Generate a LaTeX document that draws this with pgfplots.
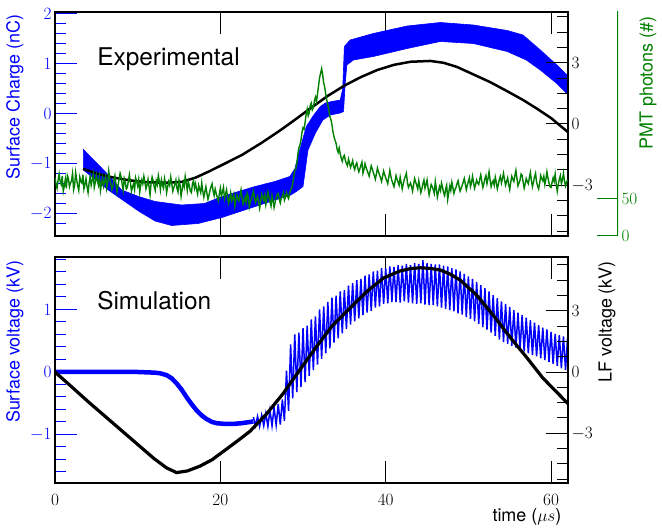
\documentclass[border=0pt]{standalone}
\usepackage[no-math]{fontspec}
\setmainfont{TeX Gyre Heros}
\usepackage{pgfplots}
\pgfplotsset{compat=1.18}
\definecolor{pmtgreen}{RGB}{0,128,0}
\begin{document}
\begin{tikzpicture}
\useasboundingbox (0,0) rectangle (662bp,529bp);
\pgfplotsset{
  panel/.style={scale only axis, width=513bp, xmin=0, xmax=62.05,
    tick align=inside, major tick length=22bp, minor tick length=11bp,
    tick style={line width=1bp, black},
    tick label style={font=\fontsize{18}{20}\selectfont},
    label style={font=\fontsize{18}{21}\selectfont},
    axis line style={line width=2.8bp}},
}
% ---------------- TOP PANEL ----------------
\begin{axis}[panel, at={(55bp,293bp)}, anchor=south west, height=224bp,
  ymin=-2.44, ymax=2.04,
  xtick={0,20,40,60}, xticklabels={}, xtick pos=both,
  ytick={-2,-1,0,1,2}, ytick pos=left,
  minor ytick={-2.2,-1.8,-1.6,-1.4,-1.2,-0.8,-0.6,-0.4,-0.2,0.2,0.4,0.6,0.8,1.2,1.4,1.6,1.8},
  y tick style={blue}, yticklabel style={blue},
  ylabel={Surface Charge (nC)},
  ylabel style={blue, at={(axis description cs:-0.078,0.62)}, anchor=center}]
\addplot[fill=blue, draw=blue, line width=0.6bp] coordinates {
(3.43,-0.71) (6.05,-1.15) (8.06,-1.52) (10.1,-1.65) (12.1,-1.75) (15.3,-1.82) (18.1,-1.79)
(20.2,-1.65) (24.2,-1.45) (26.6,-1.35) (28.4,-1.25) (29.0,-1.1) (29.6,-0.72) (30.4,-0.25)
(31.3,-0.02) (32.1,0.15) (32.7,0.22) (33.5,0.25) (34.5,0.28) (34.8,0.5) (35.0,1.35)
(35.7,1.48) (38.5,1.61) (42.6,1.76) (46.6,1.83) (50.6,1.78) (54.7,1.67) (56.6,1.58)
(58.7,1.28) (60.7,0.98) (62.1,0.75)
(62.1,0.38) (60.7,0.61) (58.7,0.88) (57.0,1.08) (54.7,1.25) (50.6,1.41) (46.6,1.45)
(42.6,1.31) (38.5,1.15) (36.1,1.08) (35.3,0.98) (35.1,0.6) (34.9,0.05) (34.5,0.02)
(33.3,-0.02) (32.4,-0.12) (31.5,-0.38) (30.6,-0.72) (30.0,-1.45) (29.2,-1.55) (28.4,-1.63)
(26.6,-1.72) (24.2,-1.85) (20.2,-2.07) (17.3,-2.19) (14.1,-2.23) (12.1,-2.14) (10.1,-1.94)
(6.45,-1.52) (3.43,-1.12)
} -- cycle;
\node[anchor=base west, inner sep=0pt, font=\fontsize{24.5}{28}\selectfont]
  at (axis description cs:0.082,0.763) {Experimental};
\end{axis}
\begin{axis}[panel, at={(55bp,293bp)}, anchor=south west, height=224bp,
  ymin=-5.49, ymax=5.49,
  xtick=\empty, ytick={-3,0,3}, ytick pos=right, yticklabel pos=right,
  minor ytick={-5.25,-4.5,-3.75,-2.25,-1.5,-0.75,0.75,1.5,2.25,3.75,4.5,5.25}]
\addplot[black, line width=2.5bp] coordinates {
(3.4,-2.2) (5.2,-2.45) (7,-2.62) (9,-2.76) (11,-2.85) (13,-2.88) (14.5,-2.86) (15.4,-2.83)
(17,-2.63) (18.6,-2.33) (20.2,-2.01) (22.6,-1.52) (25,-0.92) (27,-0.38) (29,0.2)
(31,0.8) (33,1.38) (35,1.88) (37,2.3) (39,2.65) (41,2.9) (43,3.05) (45.4,3.09) (47,3.0)
(48.6,2.8) (50.5,2.45) (52.6,2.06) (54.5,1.65) (56.6,1.18) (58.3,0.75) (60,0.29) (62.05,-0.4)
};
\end{axis}
\begin{axis}[panel, at={(55bp,293bp)}, anchor=south west, height=224bp,
  ymin=0, ymax=300, hide axis]
\addplot[pmtgreen, line width=1.4bp] coordinates {
(0,78) (0.125,70) (0.25,64) (0.375,75) (0.5,83) (0.625,73) (0.75,69) (0.875,80) (1,60) (1.125,67)
(1.25,76) (1.375,64) (1.5,81) (1.625,77) (1.75,66) (1.875,71) (2,74) (2.125,84) (2.25,62) (2.375,68)
(2.5,85) (2.625,75) (2.75,67) (2.875,61) (3,79) (3.125,73) (3.25,71) (3.375,82) (3.5,63) (3.625,69)
(3.75,77) (3.875,66) (4,58) (4.125,71) (4.25,80) (4.375,68) (4.5,75) (4.625,83) (4.75,65) (4.875,72)
(5,82) (5.125,74) (5.25,68) (5.375,79) (5.5,61) (5.625,70) (5.75,78) (5.875,67) (6,73) (6.125,80)
(6.25,64) (6.375,72) (6.5,87) (6.625,76) (6.75,70) (6.875,62) (7,66) (7.125,75) (7.25,81) (7.375,70)
(7.5,59) (7.625,68) (7.75,76) (7.875,84) (8,79) (8.125,69) (8.25,61) (8.375,77) (8.5,72) (8.625,63)
(8.75,65) (8.875,74) (9,82) (9.125,71) (9.25,60) (9.375,66) (9.5,70) (9.625,62) (9.75,78) (9.875,73)
(10,67) (10.125,76) (10.25,59) (10.375,68) (10.5,75) (10.625,70) (10.75,80) (10.875,72) (11,63)
(11.125,68) (11.25,76) (11.375,66) (11.5,55) (11.625,71) (11.75,79) (11.875,74) (12,66) (12.125,61)
(12.25,74) (12.375,69) (12.5,81) (12.625,73) (12.75,62) (12.875,75) (13,68) (13.125,64) (13.25,77)
(13.375,70) (13.5,58) (13.625,66) (13.75,73) (13.875,68) (14,79) (14.125,70) (14.25,60) (14.375,65)
(14.5,69) (14.625,75) (14.75,64) (14.875,59) (15,75) (15.125,68) (15.25,53) (15.375,62) (15.5,72)
(15.625,66) (15.75,80) (15.875,71) (16,61) (16.125,73) (16.25,67) (16.375,60) (16.5,58) (16.625,70)
(16.75,74) (16.875,64) (17,70) (17.125,62) (17.25,56) (17.375,68) (17.5,63) (17.625,58) (17.75,71)
(17.875,60) (18,52) (18.125,59) (18.25,66) (18.375,57) (18.5,49) (18.625,55) (18.75,61) (18.875,66)
(19,70) (19.125,60) (19.25,54) (19.375,63) (19.5,57) (19.625,52) (19.75,47) (19.875,56) (20,64)
(20.125,53) (20.25,59) (20.375,65) (20.5,50) (20.625,56) (20.75,62) (20.875,52) (21,44) (21.125,50)
(21.25,58) (21.375,47) (21.5,51) (21.625,56) (21.75,40) (21.875,48) (22,55) (22.125,50) (22.25,47)
(22.375,54) (22.5,62) (22.625,52) (22.75,43) (22.875,47) (23,52) (23.125,45) (23.25,57) (23.375,53)
(23.5,39) (23.625,46) (23.75,49) (23.875,55) (24,60) (24.125,51) (24.25,45) (24.375,49) (24.5,53)
(24.625,45) (24.75,37) (24.875,46) (25,56) (25.125,52) (25.25,48) (25.375,55) (25.5,42) (25.625,50)
(25.75,59) (25.875,52) (26,46) (26.125,40) (26.25,54) (26.375,47) (26.5,38) (26.625,45) (26.75,51)
(26.875,56) (27,57) (27.125,49) (27.25,44) (27.375,51) (27.5,53) (27.625,58) (27.75,48) (27.875,52)
(28,58) (28.125,53) (28.25,50) (28.375,57) (28.5,62) (28.625,64) (28.75,70) (28.875,79) (29,88)
(29.125,90) (29.25,97) (29.375,110) (29.5,118) (29.625,122) (29.75,128) (29.875,139) (30,145)
(30.125,143) (30.25,152) (30.375,163) (30.5,170) (30.625,161) (30.75,165) (30.875,175) (31,178)
(31.125,169) (31.25,172) (31.375,181) (31.5,186) (31.625,180) (31.75,190) (31.875,201) (32,212)
(32.125,218) (32.25,224) (32.375,216) (32.5,205) (32.625,199) (32.75,190) (32.875,182) (33,176)
(33.125,168) (33.25,160) (33.375,156) (33.5,149) (33.625,139) (33.75,133) (33.875,128) (34,124)
(34.125,116) (34.25,112) (34.375,118) (34.5,110) (34.625,104) (34.75,100) (34.875,106) (35,108)
(35.125,101) (35.25,97) (35.375,94) (35.5,103) (35.625,98) (35.75,92) (35.875,96) (36,101)
(36.125,93) (36.25,89) (36.375,95) (36.5,98) (36.625,91) (36.75,86) (36.875,90) (37,95) (37.125,99)
(37.25,84) (37.375,89) (37.5,97) (37.625,92) (37.75,88) (37.875,84) (38,80) (38.125,87) (38.25,94)
(38.375,90) (38.5,85) (38.625,81) (38.75,76) (38.875,83) (39,91) (39.125,86) (39.25,82) (39.375,78)
(39.5,73) (39.625,80) (39.75,87) (39.875,82) (40,78) (40.125,74) (40.25,70) (40.375,79) (40.5,88)
(40.625,80) (40.75,74) (40.875,70) (41,66) (41.125,73) (41.25,81) (41.375,76) (41.5,72) (41.625,68)
(41.75,79) (41.875,71) (42,63) (42.125,70) (42.25,76) (42.375,80) (42.5,84) (42.625,72) (42.75,65)
(42.875,68) (43,71) (43.125,66) (43.25,60) (43.375,69) (43.5,77) (43.625,72) (43.75,68) (43.875,63)
(44,74) (44.125,66) (44.25,58) (44.375,63) (44.5,70) (44.625,75) (44.75,64) (44.875,69) (45,75)
(45.125,64) (45.25,55) (45.375,62) (45.5,69) (45.625,66) (45.75,62) (45.875,57) (46,73) (46.125,63)
(46.25,52) (46.375,59) (46.5,66) (46.625,61) (46.75,71) (46.875,65) (47,58) (47.125,54) (47.25,63)
(47.375,68) (47.5,49) (47.625,58) (47.75,67) (47.875,61) (48,72) (48.125,65) (48.25,57) (48.375,62)
(48.5,65) (48.625,70) (48.75,74) (48.875,66) (49,60) (49.125,64) (49.25,68) (49.375,72) (49.5,77)
(49.625,70) (49.75,62) (49.875,68) (50,73) (50.125,78) (50.25,66) (50.375,71) (50.5,80) (50.625,72)
(50.75,64) (50.875,69) (51,75) (51.125,71) (51.25,69) (51.375,76) (51.5,82) (51.625,73) (51.75,65)
(51.875,70) (52,77) (52.125,81) (52.25,70) (52.375,77) (52.5,86) (52.625,75) (52.75,66) (52.875,71)
(53,74) (53.125,68) (53.25,79) (53.375,72) (53.5,63) (53.625,69) (53.75,76) (53.875,80) (54,71)
(54.125,77) (54.25,84) (54.375,75) (54.5,68) (54.625,73) (54.75,78) (54.875,69) (55,62) (55.125,72)
(55.25,80) (55.375,76) (55.5,73) (55.625,81) (55.75,88) (55.875,77) (56,67) (56.125,71) (56.25,75)
(56.375,83) (56.5,81) (56.625,72) (56.75,64) (56.875,70) (57,77) (57.125,73) (57.25,70) (57.375,78)
(57.5,85) (57.625,74) (57.75,66) (57.875,72) (58,79) (58.125,84) (58.25,72) (58.375,67) (58.5,63)
(58.625,71) (58.75,81) (58.875,77) (59,74) (59.125,80) (59.25,69) (59.375,76) (59.5,86) (59.625,78)
(59.75,71) (59.875,66) (60,65) (60.125,72) (60.25,78) (60.375,73) (60.5,83) (60.625,70) (60.75,60)
(60.875,69) (61,76) (61.125,81) (61.25,70) (61.375,75) (61.5,84) (61.625,74) (61.75,67) (61.875,72)
(62,75)
};
\end{axis}
\begin{axis}[scale only axis, width=10bp, height=224bp, at={(618bp,293bp)}, anchor=south east,
  xmin=0, xmax=1, ymin=0, ymax=300, xtick=\empty, ytick={0,50},
  ytick pos=right, yticklabel pos=right, tick align=inside, major tick length=21bp,
  axis line style={draw=none}, tick style={line width=1bp, pmtgreen},
  tick label style={font=\fontsize{18}{20}\selectfont, pmtgreen},
  ylabel={PMT photons (\#)},
  ylabel style={font=\fontsize{18}{21}\selectfont, pmtgreen, at={(axis description cs:4.0,0.683)}, anchor=center}]
\draw[pmtgreen, line width=2.6bp] (rel axis cs:1,-0.005) -- (rel axis cs:1,1.005);
\end{axis}
% ---------------- BOTTOM PANEL ----------------
\begin{axis}[panel, at={(55bp,46bp)}, anchor=south west, height=226bp,
  ymin=-1.776, ymax=1.84,
  xtick={0,20,40,60}, xtick pos=both, xticklabel pos=lower,
  xticklabel style={yshift=-8bp},
  ytick={-1,0,1}, ytick pos=left,
  minor ytick={-1.6,-1.4,-1.2,-0.8,-0.6,-0.4,-0.2,0.2,0.4,0.6,0.8,1.2,1.4,1.6,1.8},
  y tick style={blue}, yticklabel style={blue},
  ylabel={Surface voltage (kV)},
  ylabel style={blue, at={(axis description cs:-0.078,0.624)}, anchor=center},
  xlabel={time ($\mu s$)},
  xlabel style={at={(axis description cs:0.994,-0.150)}, anchor=east}]
\addplot[blue, line width=4.5bp] coordinates {
(0,0) (2,0) (4,0) (6,0) (8,0) (10,0) (12,-0.01) (12.7,-0.02) (13.5,-0.05) (14.1,-0.1)
(14.7,-0.18) (15.3,-0.28) (15.9,-0.4) (16.5,-0.51) (17.1,-0.61) (17.7,-0.69) (18.3,-0.75)
(19,-0.8) (19.6,-0.82) (20.5,-0.83) (21.6,-0.83) (22.5,-0.82) (23.6,-0.8) (24,-0.79)
};
\addplot[blue, line width=1.5bp] coordinates {
(24.00,-0.72) (24.25,-0.86) (24.50,-0.71) (24.75,-0.87) (25.00,-0.69) (25.25,-0.86)
(25.50,-0.66) (25.75,-0.87) (26.00,-0.61) (26.25,-0.86) (26.50,-0.57) (26.75,-0.85)
(27.00,-0.51) (27.25,-0.84) (27.50,-0.44) (27.75,-0.78) (28.00,0.02) (28.25,-0.62)
(28.50,0.44) (28.75,-0.42) (29.00,0.60) (29.25,-0.32) (29.50,0.63) (29.75,-0.24)
(30.00,0.70) (30.25,-0.16) (30.50,0.74) (30.75,-0.06) (31.00,0.84) (31.25,0.03)
(31.50,0.89) (31.75,0.12) (32.00,1.00) (32.25,0.21) (32.50,1.05) (32.75,0.30)
(33.00,1.12) (33.25,0.38) (33.50,1.19) (33.75,0.47) (34.00,1.22) (34.25,0.54)
(34.50,1.29) (34.75,0.62) (35.00,1.31) (35.25,0.69) (35.50,1.38) (35.75,0.76)
(36.00,1.42) (36.25,0.81) (36.50,1.47) (36.75,0.86) (37.00,1.49) (37.25,0.91)
(37.50,1.54) (37.75,0.95) (38.00,1.56) (38.25,0.98) (38.50,1.61) (38.75,1.03)
(39.00,1.62) (39.25,1.05) (39.50,1.66) (39.75,1.09) (40.00,1.66) (40.25,1.10)
(40.50,1.69) (40.75,1.12) (41.00,1.68) (41.25,1.12) (41.50,1.71) (41.75,1.11)
(42.00,1.70) (42.25,1.13) (42.50,1.73) (42.75,1.11) (43.00,1.71) (43.25,1.10)
(43.50,1.74) (43.75,1.09) (44.00,1.73) (44.25,1.10) (44.50,1.79) (44.75,1.08)
(45.00,1.74) (45.25,1.07) (45.50,1.73) (45.75,1.07) (46.00,1.72) (46.25,1.05)
(46.50,1.72) (46.75,1.03) (47.00,1.70) (47.25,1.01) (47.50,1.69) (47.75,0.99)
(48.00,1.66) (48.25,0.97) (48.50,1.64) (48.75,0.94) (49.00,1.61) (49.25,0.92)
(49.50,1.57) (49.75,0.88) (50.00,1.53) (50.25,0.85) (50.50,1.49) (50.75,0.81)
(51.00,1.44) (51.25,0.77) (51.50,1.39) (51.75,0.72) (52.00,1.34) (52.25,0.68)
(52.50,1.29) (52.75,0.63) (53.00,1.23) (53.25,0.58) (53.50,1.18) (53.75,0.52)
(54.00,1.13) (54.25,0.48) (54.50,1.09) (54.75,0.45) (55.00,1.04) (55.25,0.42)
(55.50,0.99) (55.75,0.39) (56.00,0.95) (56.25,0.36) (56.50,0.91) (56.75,0.33)
(57.00,0.87) (57.25,0.30) (57.50,0.83) (57.75,0.27) (58.00,0.79) (58.25,0.25)
(58.50,0.75) (58.75,0.22) (59.00,0.71) (59.25,0.19) (59.50,0.68) (59.75,0.16)
(60.00,0.64) (60.25,0.13) (60.50,0.61) (60.75,0.10) (61.00,0.59) (61.25,0.06)
(61.50,0.57) (61.75,0.03) (62.00,0.55)
};
\node[anchor=base west, inner sep=0pt, font=\fontsize{24.5}{28}\selectfont]
  at (axis description cs:0.082,0.769) {Simulation};
\end{axis}
\begin{axis}[panel, at={(55bp,46bp)}, anchor=south west, height=226bp,
  ymin=-5.44, ymax=5.64,
  xtick=\empty, ytick={-3,0,3}, ytick pos=right, yticklabel pos=right,
  minor ytick={-5.25,-4.5,-3.75,-2.25,-1.5,-0.75,0.75,1.5,2.25,3.75,4.5,5.25},
  ylabel={LF voltage (kV)},
  ylabel style={at={(axis description cs:1.076,0.712)}, anchor=center}]
\addplot[black, line width=3.2bp] coordinates {
(0,0) (2,-0.72) (4,-1.45) (6,-2.15) (8,-2.85) (10,-3.55) (12,-4.25) (13.5,-4.7)
(14.7,-4.93) (16,-4.85) (17.5,-4.62) (19,-4.3) (20.5,-3.85) (22,-3.4) (23.6,-2.9)
(25.6,-2.05) (27.6,-1.05) (29.6,0.1) (31.7,1.28) (33.5,2.25) (35.7,3.14) (37.7,3.94)
(39.7,4.6) (41.7,4.95) (43,5.07) (44.2,5.11) (45.4,5.08) (46.6,5.0) (47.8,4.8) (49,4.51)
(51,3.77) (53,2.79) (55,1.73) (57.1,0.69) (59,-0.29) (62.05,-1.55)
};
\end{axis}
\end{tikzpicture}
\end{document}
